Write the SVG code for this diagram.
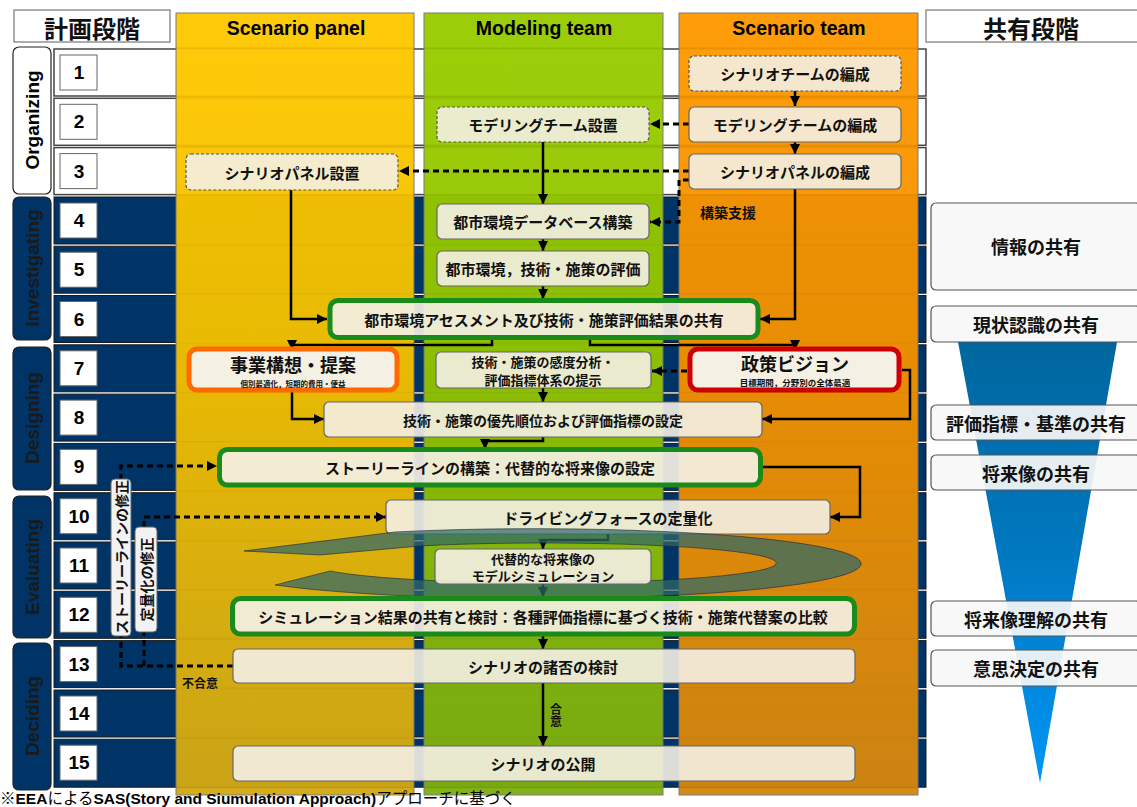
<svg xmlns="http://www.w3.org/2000/svg" width="1137" height="807" viewBox="0 0 1137 807">
<defs>
<linearGradient id="gY" x1="0" y1="0" x2="0" y2="1"><stop offset="0" stop-color="#FFC800"/><stop offset="0.45" stop-color="#F2C000"/><stop offset="1" stop-color="#D2A814"/></linearGradient>
<linearGradient id="gG" x1="0" y1="0" x2="0" y2="1"><stop offset="0" stop-color="#99CC00"/><stop offset="0.45" stop-color="#92C400"/><stop offset="1" stop-color="#7DAE10"/></linearGradient>
<linearGradient id="gO" x1="0" y1="0" x2="0" y2="1"><stop offset="0" stop-color="#FF9900"/><stop offset="0.45" stop-color="#F29100"/><stop offset="1" stop-color="#D4870F"/></linearGradient>
<linearGradient id="gF" x1="0" y1="0" x2="0" y2="1"><stop offset="0" stop-color="#00669E"/><stop offset="0.5" stop-color="#0079C2"/><stop offset="1" stop-color="#0096F5"/></linearGradient>
<marker id="ah" viewBox="0 0 10 10" refX="10" refY="5" markerWidth="10" markerHeight="10" markerUnits="userSpaceOnUse" orient="auto"><path d="M0,0 L10,5 L0,10 Z" fill="#000"/></marker>
<style>
.row{fill:#003366;stroke:#1a1a1a;stroke-width:1}
.roww{fill:#fff;stroke:#444;stroke-width:1.5}
.num{fill:#fff;stroke:#666;stroke-width:1}
.nt{font-family:"Liberation Sans",Arial,sans-serif;font-weight:bold;font-size:19px;text-anchor:middle;dominant-baseline:central;fill:#000}
.lane{stroke:#777;stroke-width:1;opacity:0.96}
.lt{font-family:"Liberation Sans",Arial,sans-serif;font-weight:bold;font-size:19.5px;text-anchor:middle;fill:#000}
.ph{stroke:#222;stroke-width:1.2}
.pt{font-family:"Liberation Sans",Arial,sans-serif;font-weight:bold;font-size:19px;text-anchor:middle;dominant-baseline:central}
.box{fill:#F4F0E4;fill-opacity:0.9;stroke:#666;stroke-width:1.2}
.dsh{stroke-dasharray:3 2;stroke:#555}
.gb{fill:#F4F0E4;fill-opacity:0.92;stroke:#1A8A1A;stroke-width:5}
.t{font-family:"Noto Sans CJK JP","Noto Sans CJK SC",sans-serif;font-weight:bold;font-size:15px;text-anchor:middle;dominant-baseline:central;fill:#111}
.sh{fill:#F7F7F7;fill-opacity:0.92;stroke:#555;stroke-width:1.2}
.st{font-family:"Noto Sans CJK JP",sans-serif;font-weight:bold;font-size:18px;text-anchor:middle;dominant-baseline:central;fill:#111}
.c{fill:none;stroke:#000;stroke-width:2.5}
.cd{fill:none;stroke:#000;stroke-width:3;stroke-dasharray:6 4}
</style>
</defs>

<!-- headers -->
<g id="hdr-plan"><rect x="14" y="10" width="156" height="32" fill="#fff" stroke="#777" stroke-width="1.2"/><text x="92" y="27" class="st" style="font-size:24px">計画段階</text></g>
<g id="hdr-share"><rect x="926" y="10" width="212" height="32" fill="#fff" stroke="#777" stroke-width="1.2"/><text x="1031" y="27" class="st" style="font-size:24px">共有段階</text></g>

<!-- row strips -->
<g id="rows">
<rect class="roww" x="54" y="49" width="872" height="47"/>
<rect class="roww" x="54" y="98.3" width="872" height="47"/>
<rect class="roww" x="54" y="147.6" width="872" height="47"/>
<rect class="row" x="54" y="197" width="872" height="47"/>
<rect class="row" x="54" y="246.2" width="872" height="47"/>
<rect class="row" x="54" y="295.5" width="872" height="47"/>
<rect class="row" x="54" y="344.8" width="872" height="47"/>
<rect class="row" x="54" y="394.1" width="872" height="47"/>
<rect class="row" x="54" y="443.4" width="872" height="47"/>
<rect class="row" x="54" y="492.7" width="872" height="47"/>
<rect class="row" x="54" y="542" width="872" height="47"/>
<rect class="row" x="54" y="591.3" width="872" height="47"/>
<rect class="row" x="54" y="640.6" width="872" height="47"/>
<rect class="row" x="54" y="690" width="872" height="47"/>
<rect class="row" x="54" y="739.2" width="872" height="48"/>
</g>

<!-- row numbers -->
<g id="numbers">
<rect class="num" x="60" y="55" width="37" height="35"/><text class="nt" x="79" y="72.5">1</text>
<rect class="num" x="60" y="104.3" width="37" height="35"/><text class="nt" x="79" y="121.8">2</text>
<rect class="num" x="60" y="153.6" width="37" height="35"/><text class="nt" x="79" y="171.1">3</text>
<rect class="num" x="60" y="203" width="37" height="35"/><text class="nt" x="79" y="220.5">4</text>
<rect class="num" x="60" y="252.2" width="37" height="35"/><text class="nt" x="79" y="269.7">5</text>
<rect class="num" x="60" y="301.5" width="37" height="35"/><text class="nt" x="79" y="319">6</text>
<rect class="num" x="60" y="350.8" width="37" height="35"/><text class="nt" x="79" y="368.3">7</text>
<rect class="num" x="60" y="400.1" width="37" height="35"/><text class="nt" x="79" y="417.6">8</text>
<rect class="num" x="60" y="449.4" width="37" height="35"/><text class="nt" x="79" y="466.9">9</text>
<rect class="num" x="60" y="498.7" width="37" height="35"/><text class="nt" x="79" y="516.2">10</text>
<rect class="num" x="60" y="548" width="37" height="35"/><text class="nt" x="79" y="565.5">11</text>
<rect class="num" x="60" y="597.3" width="37" height="35"/><text class="nt" x="79" y="614.8">12</text>
<rect class="num" x="60" y="646.6" width="37" height="35"/><text class="nt" x="79" y="664.1">13</text>
<rect class="num" x="60" y="696" width="37" height="35"/><text class="nt" x="79" y="713.5">14</text>
<rect class="num" x="60" y="745.2" width="37" height="35"/><text class="nt" x="79" y="762.7">15</text>
</g>

<!-- phase labels -->
<g id="phase-organizing"><rect class="ph" x="13" y="47" width="38" height="147" rx="6" fill="#fff"/><text class="pt" transform="translate(32,120) rotate(-90)" fill="#000">Organizing</text></g>
<g id="phase-investigating"><rect class="ph" x="13" y="197" width="38" height="143" rx="6" fill="#003366"/><text class="pt" transform="translate(32,268) rotate(-90)" fill="#1a1a1a">Investigating</text></g>
<g id="phase-designing"><rect class="ph" x="13" y="347" width="38" height="143" rx="6" fill="#003366"/><text class="pt" transform="translate(32,418) rotate(-90)" fill="#1a1a1a">Designing</text></g>
<g id="phase-evaluating"><rect class="ph" x="13" y="496" width="38" height="142" rx="6" fill="#003366"/><text class="pt" transform="translate(32,567) rotate(-90)" fill="#1a1a1a">Evaluating</text></g>
<g id="phase-deciding"><rect class="ph" x="13" y="643" width="38" height="147" rx="6" fill="#003366"/><text class="pt" transform="translate(32,716) rotate(-90)" fill="#1a1a1a">Deciding</text></g>

<!-- lanes -->
<g id="lane-panel"><rect class="lane" x="176" y="13" width="238" height="782" fill="url(#gY)"/><text class="lt" x="296" y="35">Scenario panel</text></g>
<g id="lane-modeling"><rect class="lane" x="424" y="13" width="239" height="782" fill="url(#gG)"/><text class="lt" x="544" y="35">Modeling team</text></g>
<g id="lane-team"><rect class="lane" x="679" y="13" width="239" height="782" fill="url(#gO)"/><text class="lt" x="799" y="35">Scenario team</text></g>
<g id="lane-lines" stroke="#000" stroke-opacity="0.07" stroke-width="1.5">
<path d="M176 48H414M424 48H663M679 48H918"/>
<path d="M176 97H414M424 97H663M679 97H918M176 146.3H414M424 146.3H663M679 146.3H918M176 195.6H414M424 195.6H663M679 195.6H918M176 245H414M424 245H663M679 245H918M176 294.2H414M424 294.2H663M679 294.2H918M176 343.5H414M424 343.5H663M679 343.5H918M176 392.8H414M424 392.8H663M679 392.8H918M176 442.1H414M424 442.1H663M679 442.1H918M176 491.4H414M424 491.4H663M679 491.4H918M176 540.7H414M424 540.7H663M679 540.7H918M176 590H414M424 590H663M679 590H918M176 639.3H414M424 639.3H663M679 639.3H918M176 688.6H414M424 688.6H663M679 688.6H918M176 738H414M424 738H663M679 738H918M176 787.5H414M424 787.5H663M679 787.5H918"/>
</g>

<!-- funnel -->
<g id="funnel"><polygon points="958,342 1117,342 1040,783" fill="url(#gF)"/></g>

<!-- share boxes -->
<g id="share-1"><rect class="sh" x="931" y="203" width="210" height="87" rx="5"/><text class="st" x="1036" y="246">情報の共有</text></g>
<g id="share-2"><rect class="sh" x="931" y="306" width="210" height="36" rx="5"/><text class="st" x="1036" y="324">現状認識の共有</text></g>
<g id="share-3"><rect class="sh" x="931" y="405" width="210" height="35" rx="5"/><text class="st" x="1036" y="422.5">評価指標・基準の共有</text></g>
<g id="share-4"><rect class="sh" x="931" y="455" width="210" height="35" rx="5"/><text class="st" x="1036" y="472.5">将来像の共有</text></g>
<g id="share-5"><rect class="sh" x="931" y="601" width="210" height="35" rx="5"/><text class="st" x="1036" y="618.5">将来像理解の共有</text></g>
<g id="share-6"><rect class="sh" x="931" y="650" width="210" height="36" rx="5"/><text class="st" x="1036" y="668">意思決定の共有</text></g>

<!-- connectors -->
<g id="connectors">
<path class="c" d="M795 91V106" marker-end="url(#ah)"/>
<path class="c" d="M795 142V154" marker-end="url(#ah)"/>
<path class="cd" d="M689 124H650" marker-end="url(#ah)"/>
<path class="cd" d="M689 171H399" marker-end="url(#ah)"/>
<path class="cd" d="M689 180H679V222H650" marker-end="url(#ah)"/>
<path class="c" d="M543 142V204" marker-end="url(#ah)"/>
<path class="c" d="M543 239V251" marker-end="url(#ah)"/>
<path class="c" d="M543 286V299" marker-end="url(#ah)"/>
<path class="c" d="M291 190V319H327" marker-end="url(#ah)"/>
<path class="c" d="M795 189V319H760" marker-end="url(#ah)"/>
<path class="c" d="M492 340V345H292V350" marker-end="url(#ah)"/>
<path class="c" d="M590 340V345H795V350" marker-end="url(#ah)"/>
<path class="cd" d="M687 371H652" marker-end="url(#ah)"/>
<path class="c" d="M292 392V419H324" marker-end="url(#ah)"/>
<path class="c" d="M902 370H910V419H762" marker-end="url(#ah)"/>
<path class="c" d="M543 388V402" marker-end="url(#ah)"/>
<path class="c" d="M543 437V441H485V449" marker-end="url(#ah)"/>
<path class="c" d="M763 467H860V517H830" marker-end="url(#ah)"/>
<path class="cd" d="M121 480V466H217" marker-end="url(#ah)"/>
<path class="cd" d="M144 527V517H386" marker-end="url(#ah)"/>
<path class="cd" d="M233 666H121V636M144 666V632"/>
<path class="c" d="M608 534V540H543V549" marker-end="url(#ah)"/>
<path class="c" d="M543 584V597" marker-end="url(#ah)"/>
<path class="c" d="M543 636V649" marker-end="url(#ah)"/>
<path class="c" d="M543 683V746" marker-end="url(#ah)"/>
<text x="556" y="703" style="font-family:'Noto Sans CJK JP',sans-serif;font-weight:bold;font-size:12px;writing-mode:vertical-rl;fill:#111">合意</text>
<text class="t" x="200" y="682" style="font-size:12px">不合意</text>
<text class="t" x="728" y="212" style="font-size:14px">構築支援</text>
</g>

<!-- nodes -->
<g id="n-team-form"><rect class="box dsh" x="689" y="56" width="212" height="35" rx="5"/><text class="t" x="795" y="73.5">シナリオチームの編成</text></g>
<g id="n-model-setup"><rect class="box dsh" x="437" y="107" width="212" height="35" rx="5"/><text class="t" x="543" y="124.5">モデリングチーム設置</text></g>
<g id="n-model-form"><rect class="box" x="689" y="107" width="212" height="35" rx="5"/><text class="t" x="795" y="124.5">モデリングチームの編成</text></g>
<g id="n-panel-setup"><rect class="box dsh" x="186" y="154" width="212" height="36" rx="5"/><text class="t" x="292" y="172">シナリオパネル設置</text></g>
<g id="n-panel-form"><rect class="box" x="689" y="154" width="212" height="35" rx="5"/><text class="t" x="795" y="171.5">シナリオパネルの編成</text></g>
<g id="n-db"><rect class="box" x="437" y="204" width="212" height="35" rx="5"/><text class="t" x="543" y="221.5">都市環境データベース構築</text></g>
<g id="n-eval"><rect class="box" x="437" y="251" width="212" height="35" rx="5"/><text class="t" x="543" y="268.5">都市環境，技術・施策の評価</text></g>
<g id="n-assess"><rect class="gb" x="330" y="300.5" width="428" height="37" rx="8"/><text class="t" x="544" y="319">都市環境アセスメント及び技術・施策評価結果の共有</text></g>
<g id="n-business"><rect x="189" y="349" width="208" height="41" rx="8" fill="#F4F0E4" stroke="#FF6A00" stroke-width="5"/><text class="t" x="293" y="364" style="font-size:18px">事業構想・提案</text><text class="t" x="293" y="383" style="font-size:7.5px">個別最適化，短期的費用・便益</text></g>
<g id="n-sens"><rect class="box" x="436" y="352" width="215" height="36" rx="5"/><text class="t" x="543" y="361" style="font-size:13px">技術・施策の感度分析・</text><text class="t" x="543" y="379" style="font-size:13px">評価指標体系の提示</text></g>
<g id="n-vision"><rect x="690" y="349" width="209" height="41" rx="8" fill="#F4F0E4" stroke="#CC0000" stroke-width="5"/><text class="t" x="795" y="363" style="font-size:18px">政策ビジョン</text><text class="t" x="795" y="381.5" style="font-size:8.5px">目標期間，分野別の全体最適</text></g>
<g id="n-priority"><rect class="box" x="324" y="402" width="438" height="35" rx="5"/><text class="t" x="543" y="419.5" style="font-size:14px">技術・施策の優先順位および評価指標の設定</text></g>
<g id="n-story"><rect class="gb" x="219.5" y="449.5" width="541" height="35.5" rx="8"/><text class="t" x="490" y="467">ストーリーラインの構築：代替的な将来像の設定</text></g>
<g id="n-drive"><rect class="box" x="386" y="500" width="444" height="34" rx="5"/><text class="t" x="608" y="517">ドライビングフォースの定量化</text></g>
<g id="loop"><path d="M395 532 A327 35 0 1 1 275 585 L330 571 A233 20 0 1 0 420 546 L320 555 L244 551 Z" fill="#2F6A6A" fill-opacity="0.72" stroke="#223" stroke-width="0.6"/></g>
<g id="n-sim"><rect class="box" x="435" y="549" width="216" height="35" rx="5"/><text class="t" x="543" y="558" style="font-size:13px">代替的な将来像の</text><text class="t" x="543" y="575" style="font-size:13px">モデルシミュレーション</text></g>
<g id="n-compare"><rect class="gb" x="232.5" y="598.5" width="622" height="35.5" rx="8"/><text class="t" x="543" y="616">シミュレーション結果の共有と検討：各種評価指標に基づく技術・施策代替案の比較</text></g>
<g id="n-decide"><rect class="box" x="233" y="649" width="622" height="34" rx="5"/><text class="t" x="543" y="666">シナリオの諸否の検討</text></g>
<g id="n-publish"><rect class="box" x="233" y="746" width="622" height="35" rx="5"/><text class="t" x="543" y="763.5">シナリオの公開</text></g>
<g id="n-fix-story"><rect x="111" y="479" width="20" height="157" rx="4" fill="#F2F2F2" stroke="#666" stroke-width="1"/><text class="t" transform="translate(121,557) rotate(-90)" style="font-size:14px">ストーリーラインの修正</text></g>
<g id="n-fix-quant"><rect x="135" y="527" width="22" height="105" rx="4" fill="#F2F2F2" stroke="#666" stroke-width="1"/><text class="t" transform="translate(146,579.5) rotate(-90)" style="font-size:14px">定量化の修正</text></g>

<!-- footer -->
<g id="footer"><text x="0" y="804" style="font-family:'Liberation Sans','Noto Sans CJK JP',sans-serif;font-size:15.5px;fill:#000">※<tspan font-weight="bold">EEA</tspan>による<tspan font-weight="bold">SAS(Story and Siumulation Approach)</tspan>アプローチに基づく</text></g>
</svg>
